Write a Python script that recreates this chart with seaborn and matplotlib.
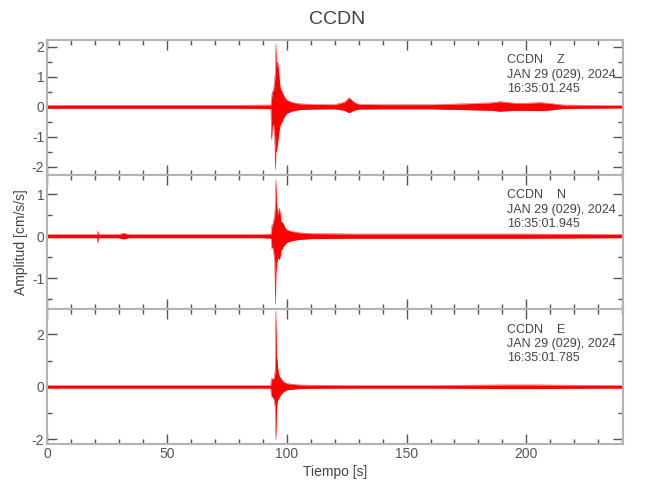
import numpy as np
import pandas as pd
import matplotlib
matplotlib.use('Agg')
import matplotlib.pyplot as plt
from matplotlib.ticker import MultipleLocator
import seaborn as sns

t_z = [0, 20, 40, 60, 80, 93.4, 93.7, 94.0, 94.5, 95.0, 95.3, 95.5, 95.7, 96.2, 96.8,
       97.3, 98.0, 98.8, 100, 102, 105, 110, 120, 124, 126, 128, 130, 140, 160, 175,
       185, 189, 195, 200, 206, 211, 215, 225, 240]
sup_z = [0.05, 0.05, 0.05, 0.05, 0.05, 0.06, 0.3, 0.5, 0.55, 0.9, 1.2, 2.1, 1.3, 1.5, 1.0,
         0.6, 0.5, 0.35, 0.22, 0.15, 0.1, 0.08, 0.07, 0.15, 0.3, 0.15, 0.08, 0.07, 0.07, 0.1,
         0.13, 0.17, 0.12, 0.12, 0.14, 0.1, 0.06, 0.05, 0.04]
inf_z = [-0.05, -0.05, -0.05, -0.05, -0.05, -0.06, -1.1, -0.6, -0.6, -1.0, -2.1, -1.4, -1.5, -1.2, -0.8,
         -0.6, -0.5, -0.35, -0.22, -0.15, -0.1, -0.08, -0.07, -0.12, -0.2, -0.12, -0.08, -0.07, -0.07, -0.1,
         -0.12, -0.15, -0.12, -0.12, -0.13, -0.1, -0.06, -0.05, -0.04]

t_n = [0, 20, 21.0, 21.2, 21.4, 30, 31.8, 34, 60, 90, 93.5, 93.8, 94.3, 95.0, 95.3, 95.5,
       95.7, 96.3, 97.0, 97.6, 98.5, 99.2, 100, 102, 105, 110, 130, 160, 200, 240]
sup_n = [0.04, 0.04, 0.04, 0.12, 0.04, 0.04, 0.07, 0.04, 0.04, 0.04, 0.05, 0.25, 0.3, 0.5, 0.8, 1.34,
         0.8, 0.5, 0.66, 0.35, 0.3, 0.2, 0.15, 0.11, 0.08, 0.06, 0.05, 0.05, 0.05, 0.04]
inf_n = [-0.04, -0.04, -0.04, -0.16, -0.04, -0.04, -0.07, -0.04, -0.04, -0.04, -0.05, -0.3, -0.25, -0.6, -1.62, -0.9,
         -0.7, -0.5, -0.56, -0.35, -0.25, -0.2, -0.15, -0.11, -0.08, -0.06, -0.05, -0.05, -0.05, -0.04]

t_e = [0, 30, 60, 90, 93.3, 93.6, 94.2, 94.8, 95.2, 95.5, 95.7, 96.0, 96.5, 97.5, 98.5,
       100, 102, 105, 110, 130, 160, 190, 205, 220, 240]
sup_e = [0.05, 0.05, 0.05, 0.05, 0.05, 0.3, 0.3, 0.35, 0.6, 2.9, 1.2, 0.97, 0.5, 0.3, 0.2,
         0.12, 0.1, 0.07, 0.06, 0.05, 0.05, 0.07, 0.07, 0.06, 0.05]
inf_e = [-0.05, -0.05, -0.05, -0.05, -0.05, -0.35, -0.4, -0.5, -0.8, -2.04, -1.0, -0.6, -0.45, -0.3, -0.2,
         -0.12, -0.1, -0.07, -0.06, -0.05, -0.05, -0.07, -0.07, -0.06, -0.05]

componentes = ['Z', 'N', 'E']
horas = ['16:35:01.245', '16:35:01.945', '16:35:01.785']
fecha = 'JAN 29 (029), 2024'
estacion = 'CCDN'
limites_y = [(-2.27, 2.23), (-1.74, 1.46), (-2.19, 2.96)]
ticks_y = [(1, 0.5), (1, 0.5), (2, 1)]

trazas = [(t_z, sup_z, inf_z), (t_n, sup_n, inf_n), (t_e, sup_e, inf_e)]

sns.set_style('white')
plt.rcParams['font.family'] = ['Liberation Sans', 'DejaVu Sans']
plt.rcParams['axes.unicode_minus'] = False
gris = '#555555'
texto = '#444444'

fig, axs = plt.subplots(3, 1, figsize=(6.5, 5), dpi=100, sharex=True)
fig.subplots_adjust(left=47/650, right=623/650, top=1-40/500, bottom=1-444/500, hspace=0)

for i, ax in enumerate(axs):
    t, sup, inf = trazas[i]
    df = pd.DataFrame({'t': t, 'sup': sup, 'inf': inf})
    ax.fill_between(df['t'], df['inf'], df['sup'], color='red', linewidth=0)
    sns.lineplot(data=df, x='t', y='sup', ax=ax, color='red', linewidth=0.3, estimator=None)
    sns.lineplot(data=df, x='t', y='inf', ax=ax, color='red', linewidth=0.3, estimator=None)
    ax.set_xlim(0, 240.3)
    ax.set_ylim(*limites_y[i])
    ax.xaxis.set_major_locator(MultipleLocator(50))
    ax.xaxis.set_minor_locator(MultipleLocator(10))
    ax.yaxis.set_major_locator(MultipleLocator(ticks_y[i][0]))
    ax.yaxis.set_minor_locator(MultipleLocator(ticks_y[i][1]))
    ax.tick_params(which='both', direction='in', top=True, right=True, bottom=True, left=True,
                   color=gris, labelcolor=gris, labelsize=10, pad=2)
    ax.tick_params(which='major', length=7, width=1)
    ax.tick_params(which='minor', length=3.5, width=1)
    for s in ax.spines.values():
        s.set_color('#b4b4b4')
        s.set_linewidth(1.5)
    ax.set_xlabel('')
    ax.set_ylabel('')
    ax.text(0.799, 0.85, estacion + '    ' + componentes[i], transform=ax.transAxes,
            va='center', ha='left', fontsize=9, color=texto)
    ax.text(0.799, 0.74, fecha, transform=ax.transAxes,
            va='center', ha='left', fontsize=9, color=texto)
    ax.text(0.799, 0.635, horas[i], transform=ax.transAxes,
            va='center', ha='left', fontsize=9, color=texto)

fig.text(337/650, 1-20/500, estacion, ha='center', va='center', fontsize=14, color=texto)
fig.text(21/650, 1-242/500, 'Amplitud [cm/s/s]', rotation=90, ha='center', va='center',
         fontsize=10, color=texto)
fig.text(335/650, 1-472/500, 'Tiempo [s]', ha='center', va='center', fontsize=10, color=texto)

plt.savefig('out.png', dpi=100)
